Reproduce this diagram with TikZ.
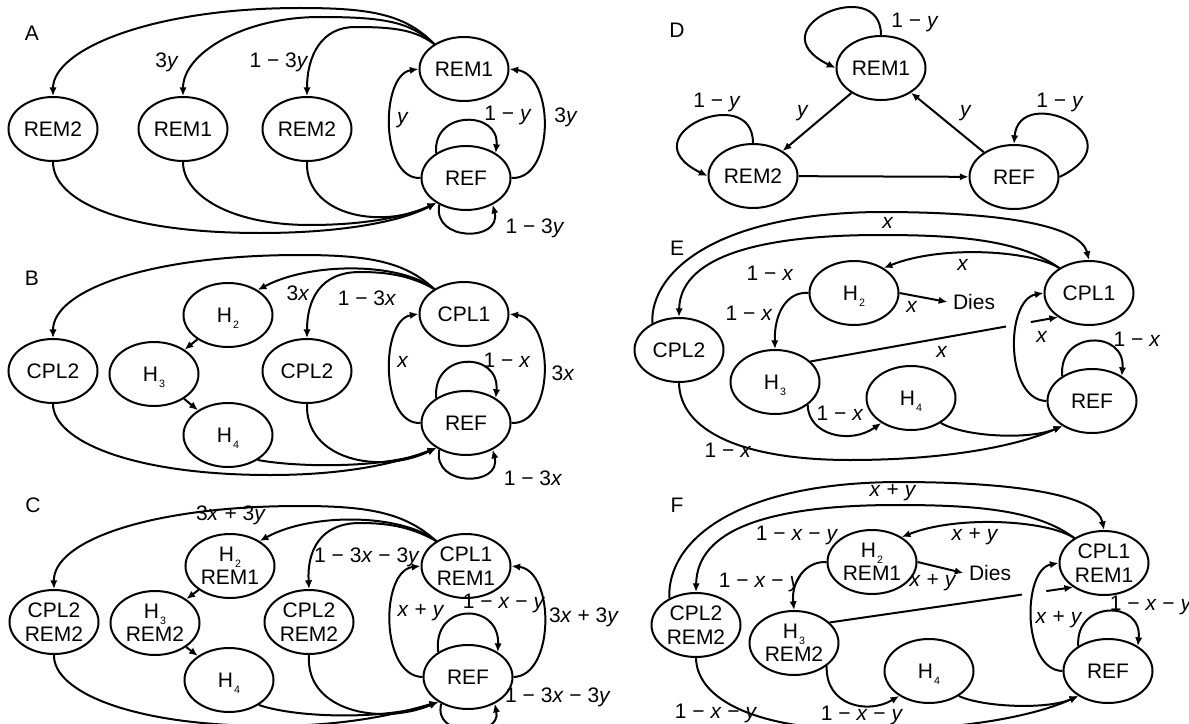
\documentclass[tikz,border=0pt]{standalone}
\usepackage{fontspec}
\setmainfont{Liberation Sans}
\usetikzlibrary{shapes.geometric,arrows.meta}
\newcommand{\Hs}[1]{H\kern0.8pt\raisebox{-4.5pt}[0pt][0pt]{\fontsize{8}{8}\selectfont #1}}
\newcommand{\vx}{\textit{x}}
\newcommand{\vy}{\textit{y}}
% edges of panels B and C
\newcommand{\bcedges}[1]{%
\draw[arr] (#16.140) .. controls (405,262) and (370,255) .. (300,255) .. controls (150,255) and (53,290) .. (#11.north);
\draw[arr] (#16.140) .. controls (400,262) and (310,262) .. (#12.40);
\draw[arr] (#16.140) .. controls (410,275) and (385,272) .. (360,272) .. controls (320,272) and (307,300) .. (#15.north);
\draw[arr] (#12) -- (#13);
\draw[arr] (#13) -- (#14);
\draw[arr] (#11.south) .. controls (53,440) and (130,475) .. (270,475) .. controls (350,475) and (400,462) .. (#17.220);
\draw[arr] (#14.320) .. controls (300,468) and (390,468) .. (#17.220);
\draw[arr] (#15.south) .. controls (305,460) and (380,475) .. (#17.220);
\draw[arr] (#17.west) .. controls (380,425) and (380,320) .. (#16.west);
\draw[arr] (#17.east) .. controls (555,425) and (555,320) .. (#16.east);
\draw[arr] (#17.140) .. controls (432,351) and (500,351) .. (#17.40);
\draw[arr] (#17.225) .. controls (432,487) and (502,487) .. (#17.315);
}
% edges of panels E and F
\newcommand{\efedges}[1]{%
\draw[arr] (#11.135) .. controls (650,270) and (720,213) .. (880,212) .. controls (1000,212) and (1080,225) .. (#15.north);
\draw[arr] (#15.140) .. controls (1020,240) and (960,235) .. (880,235) .. controls (750,235) and (680,260) .. (#11.north);
\draw[arr] (#15.140) .. controls (1030,250) and (940,245) .. (#12.40);
\draw[arr] (#12.east) -- (#17.west);
\draw[arr] (#12.west) .. controls (788,291) and (774,312) .. (#13.north);
\path (#13.30) -- (#15.218) coordinate[pos=0.79] (#1g1) coordinate[pos=0.89] (#1g2);
\draw[ed] (#13.30) -- (#1g1);
\draw[arr] (#1g2) -- (#15.218);
\draw[arr] (#16.west) .. controls (1005,400) and (1005,300) .. (#15.west);
\draw[arr] (#16.140) .. controls (1058,330) and (1126,330) .. (#16.40);
\draw[arr] (#13.-35) .. controls (808,435) and (850,445) .. (#14.220);
\draw[arr] (#14.-40) .. controls (965,437) and (1030,440) .. (#16.220);
\draw[arr] (#11.south) .. controls (680,430) and (740,460) .. (850,460) .. controls (950,460) and (1020,445) .. (#16.220);
}
\begin{document}
\begin{tikzpicture}[x=0.75pt,y=-0.75pt,
  st/.style={ellipse,draw,line width=1.5pt,minimum width=66.75pt,minimum height=48pt,inner sep=0pt,align=center,font=\fontsize{15.75}{17.5}\selectfont},
  lab/.style={inner sep=0pt,font=\fontsize{15.75}{17.5}\selectfont},
  ed/.style={line width=1.5pt},
  arr/.style={line width=1.5pt,-{Latex[length=6.5pt,width=5.5pt]}}]
\useasboundingbox (0,0) rectangle (1189,724);

% ---------------- Panel A
\node[lab] (la) at (32,33) {A};
\node[st] (a1) at (53,129) {REM2};
\node[st] (a2) at (183,129) {REM1};
\node[st] (a3) at (307,129) {REM2};
\node[st] (a4) at (464,69) {REM1};
\node[st] (a5) at (466,178) {REF};
\draw[arr] (a4.140) .. controls (405,14) and (370,8) .. (300,8) .. controls (150,8) and (53,50) .. (a1.north);
\draw[arr] (a4.140) .. controls (410,22) and (385,17) .. (320,17) .. controls (244,17) and (183,53) .. (a2.north);
\draw[arr] (a4.140) .. controls (415,30) and (395,27) .. (355,27) .. controls (322,27) and (307,55) .. (a3.north);
\draw[arr] (a1.south) .. controls (53,200) and (120,233) .. (260,233) .. controls (340,233) and (400,222) .. (a5.220);
\draw[arr] (a2.south) .. controls (183,195) and (230,225) .. (310,225) .. controls (370,225) and (410,215) .. (a5.220);
\draw[arr] (a3.south) .. controls (305,215) and (380,230) .. (a5.220);
\draw[arr] (a5.west) .. controls (380,180) and (380,75) .. (a4.west);
\draw[arr] (a5.east) .. controls (555,180) and (555,75) .. (a4.east);
\draw[arr] (a5.140) .. controls (432,110) and (500,110) .. (a5.40);
\draw[arr] (a5.225) .. controls (432,242) and (502,242) .. (a5.315);
\node[lab] (la1) at (167,62) {3\vy};
\node[lab] (la2) at (279,62) {1 − 3\vy};
\node[lab] (la3) at (403,120) {\vy};
\node[lab] (la4) at (508,115) {1 − \vy};
\node[lab] (la5) at (566,117) {3\vy};
\node[lab] (la6) at (535,228) {1 − 3\vy};

% ---------------- Panel B
\node[lab] (lb) at (32,278) {B};
\node[st] (b1) at (53,371) {CPL2};
\node[st] (b2) at (228,315) {\Hs{2}};
\node[st] (b3) at (154,374) {\Hs{3}};
\node[st] (b4) at (228,435) {\Hs{4}};
\node[st] (b5) at (307,371) {CPL2};
\node[st] (b6) at (464,314) {CPL1};
\node[st] (b7) at (466,423) {REF};
\bcedges{b}
\node[lab] (lb1) at (298,293) {3\vx};
\node[lab] (lb2) at (367,298) {1 − 3\vx};
\node[lab] (lb3) at (403,362) {\vx};
\node[lab] (lb4) at (507,360) {1 − \vx};
\node[lab] (lb5) at (563,373) {3\vx};
\node[lab] (lb6) at (533,478) {1 − 3\vx};

% ---------------- Panel C
\node[lab] (lc) at (33,505) {C};
\begin{scope}[shift={(0,251)}]
\node[st] (c1) at (54,371) {CPL2\\REM2};
\node[st] (c2) at (230,315) {\Hs{2}\\REM1};
\node[st] (c3) at (155,372) {\Hs{3}\\REM2};
\node[st] (c4) at (229,429) {\Hs{4}};
\node[st] (c5) at (309,371) {CPL2\\REM2};
\node[st] (c6) at (466,315) {CPL1\\REM1};
\node[st] (c7) at (468,426) {REF};
\bcedges{c}
\end{scope}
\node[lab] (lc1) at (231,515) {3\vx{} + 3\vy};
\node[lab] (lc2) at (367,557) {1 − 3\vx{} − 3\vy};
\node[lab] (lc3) at (421,613) {\vx{} + \vy};
\node[lab] (lc4) at (504,603) {1 − \vx{} − \vy};
\node[lab] (lc5) at (584,617) {3\vx{} + 3\vy};
\node[lab] (lc6) at (558,697) {1 − 3\vx{} − 3\vy};

% ---------------- Panel D
\node[lab] (ld) at (677,30) {D};
\node[st] (d1) at (881,68) {REM1};
\node[st] (d2) at (753,176) {REM2};
\node[st] (d3) at (1014,177) {REF};
\draw[arr] (d1) -- (d2);
\draw[arr] (d3) -- (d1);
\draw[arr] (d2) -- (d3);
\draw[arr] (d1.north) .. controls +(0,-62) and +(-82,-40) .. (d1.west);
\draw[arr] (d2.north) .. controls +(0,-62) and +(-82,-40) .. (d2.west);
\draw[arr] (d3.east) .. controls +(82,-40) and +(5,-62) .. (d3.north);
\node[lab] (ld1) at (915,22) {1 − \vy};
\node[lab] (ld2) at (717,102) {1 − \vy};
\node[lab] (ld3) at (803,113) {\vy};
\node[lab] (ld4) at (966,113) {\vy};
\node[lab] (ld5) at (1060,102) {1 − \vy};

% ---------------- Panel E
\node[lab] (le) at (677,248) {E};
\node[st] (e1) at (679,350) {CPL2};
\node[st] (e2) at (854,293) {\Hs{2}};
\node[st] (e3) at (775,382) {\Hs{3}};
\node[st] (e4) at (911,398) {\Hs{4}};
\node[st] (e5) at (1089,293) {CPL1};
\node[st] (e6) at (1092,401) {REF};
\node[lab,inner sep=4pt] (e7) at (974,302) {Dies};
\efedges{e}
\node[lab] (le1) at (888,223) {\vx};
\node[lab] (le2) at (770,273) {1 − \vx};
\node[lab] (le3) at (963,265) {\vx};
\node[lab] (le4) at (912,307) {\vx};
\node[lab] (le5) at (749,313) {1 − \vx};
\node[lab] (le6) at (942,352) {\vx};
\node[lab] (le7) at (1042,337) {\vx};
\node[lab] (le8) at (1137,339) {1 − \vx};
\node[lab] (le9) at (840,413) {1 − \vx};
\node[lab] (le10) at (728,450) {1 − \vx};

% ---------------- Panel F
\node[lab] (lf) at (677,505) {F};
\begin{scope}[shift={(17,270)}]
\node[st] (f1) at (679,355) {CPL2\\REM2};
\node[st] (f2) at (855,292) {\Hs{2}\\REM1};
\node[st] (f3) at (777,373) {\Hs{3}\\REM2};
\node[st] (f4) at (912,401) {\Hs{4}};
\node[st] (f5) at (1087,293) {CPL1\\REM1};
\node[st] (f6) at (1091,401) {REF};
\node[lab,inner sep=4pt] (f7) at (973,303) {Dies};
\efedges{f}
\end{scope}
\node[lab] (lf1) at (893,493) {\vx{} + \vy};
\node[lab] (lf2) at (975,537) {\vx{} + \vy};
\node[lab] (lf3) at (797,535) {1 − \vx{} − \vy};
\node[lab] (lf4) at (760,582) {1 − \vx{} − \vy};
\node[lab] (lf5) at (933,583) {\vx{} + \vy};
\node[lab] (lf6) at (1059,620) {\vx{} + \vy};
\node[lab] (lf7) at (1151,605) {1 − \vx{} − \vy};
\node[lab] (lf8) at (716,713) {1 − \vx{} − \vy};
\node[lab] (lf9) at (862,715) {1 − \vx{} − \vy};
\end{tikzpicture}
\end{document}
